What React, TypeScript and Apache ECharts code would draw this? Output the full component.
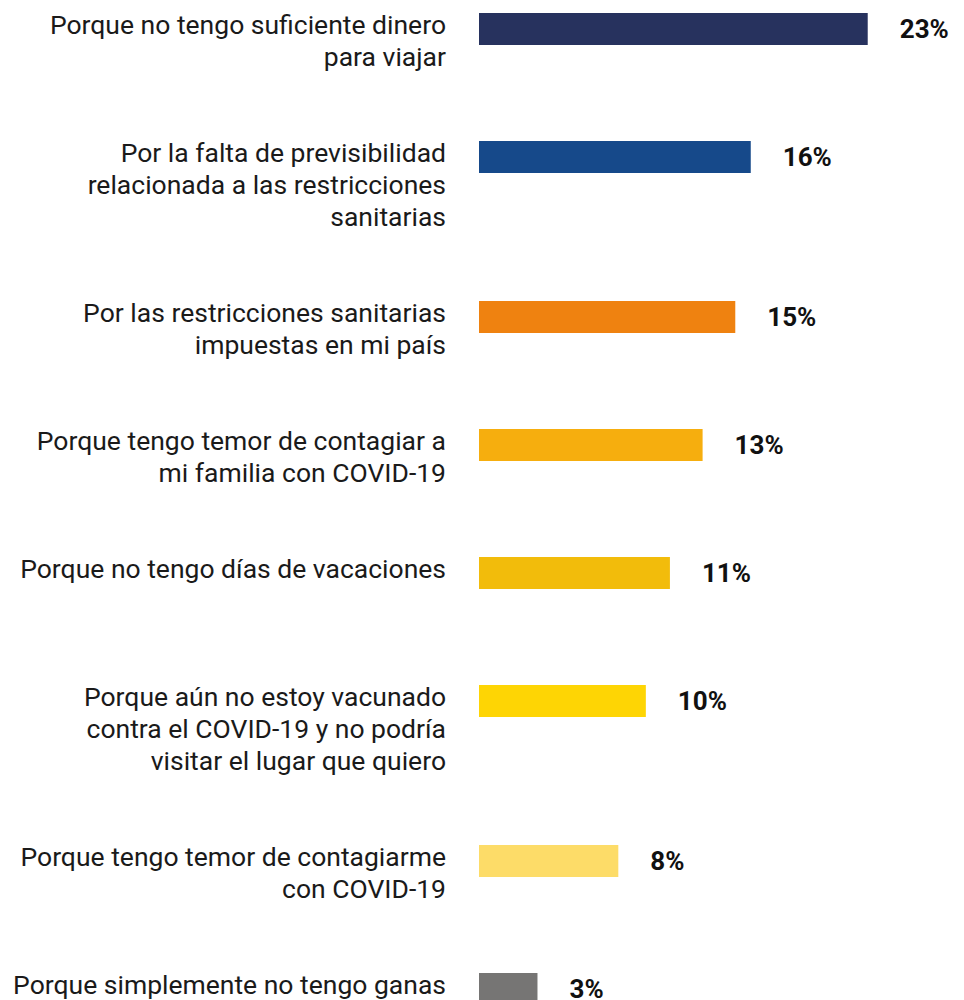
import React, { useEffect, useRef } from "react";
import * as echarts from "echarts";

// Reasons (line breaks as in the reference)
const reasons: string[] = [
  "Porque no tengo suficiente dinero\npara viajar",
  "Por la falta de previsibilidad\nrelacionada a las restricciones\nsanitarias",
  "Por las restricciones sanitarias\nimpuestas en mi país",
  "Porque tengo temor de contagiar a\nmi familia con COVID-19",
  "Porque no tengo días de vacaciones",
  "Porque aún no estoy vacunado\ncontra el COVID-19 y no podría\nvisitar el lugar que quiero",
  "Porque tengo temor de contagiarme\ncon COVID-19",
  "Porque simplemente no tengo ganas",
];

// Percentages (labels show rounded values)
const percents: number[] = [22.6, 15.8, 14.9, 13.0, 11.1, 9.7, 8.1, 3.4];

const barColors: string[] = [
  "#27325E",
  "#16498A",
  "#EF8210",
  "#F6AE0E",
  "#F2BC0B",
  "#FED504",
  "#FDDC68",
  "#767574",
];

export default function App() {
  const ref = useRef<HTMLDivElement>(null);

  useEffect(() => {
    if (!ref.current) return;
    const chart = echarts.init(ref.current, undefined, { renderer: "svg" });

    // Build category slots: each reason occupies a band of slots depending on its line count
    const slotLabels: string[] = [];
    const slotData: any[] = [];
    reasons.forEach((r, i) => {
      const lines = r.split("\n").length;
      const span = i === reasons.length - 1 ? 1 : Math.max(4, lines + 2);
      slotLabels.push(r);
      slotData.push({ value: percents[i], itemStyle: { color: barColors[i] } });
      for (let k = 1; k < span; k++) {
        slotLabels.push("");
        slotData.push("-");
      }
    });
    // extra trailing slots below last bar
    for (let k = 0; k < 3; k++) {
      slotLabels.push("");
      slotData.push("-");
    }

    const slotPx = 32;
    const gridTop = 13;
    const chartH = 1100;
    const gridBottom = chartH - gridTop - slotLabels.length * slotPx;

    chart.setOption({
      animation: false,
      grid: {
        left: 479,
        right: 55,
        top: gridTop,
        bottom: gridBottom,
        containLabel: false,
        outerBoundsMode: "none",
      },
      xAxis: {
        type: "value",
        min: 0,
        max: 25,
        show: false,
      },
      yAxis: {
        type: "category",
        inverse: true,
        data: slotLabels,
        axisLine: { show: false },
        axisTick: { show: false },
        splitLine: { show: false },
        axisLabel: {
          interval: 0,
          margin: 33,
          align: "right",
          verticalAlign: "top",
          padding: [-21, 0, 0, 0],
          fontFamily: "Roboto",
          fontSize: 26.5,
          lineHeight: 32,
          color: "#1a1a1a",
        },
      },
      series: [
        {
          type: "bar",
          data: slotData,
          barWidth: slotPx,
          label: {
            show: true,
            position: "right",
            distance: 32,
            fontFamily: "Roboto",
            fontWeight: "bold",
            fontSize: 26,
            color: "#111111",
            formatter: (p: any) => Math.round(p.value) + "%",
          },
        },
      ],
    });

    return () => chart.dispose();
  }, []);

  return (
    <div
      style={{
        position: "absolute",
        left: 0,
        top: 0,
        width: 964,
        height: 1000,
        overflow: "hidden",
        background: "#ffffff",
      }}
    >
      <div ref={ref} style={{ width: 964, height: 1100 }} />
    </div>
  );
}
